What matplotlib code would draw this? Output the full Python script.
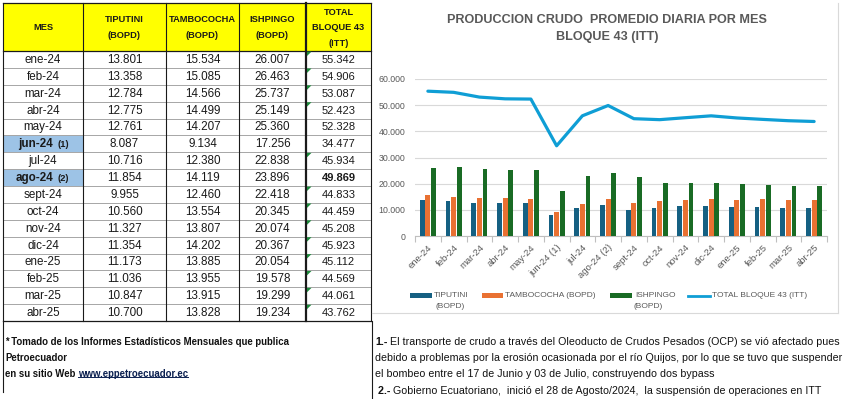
import matplotlib
matplotlib.use('Agg')
import matplotlib.pyplot as plt
from matplotlib import font_manager as fm
from matplotlib.patches import Rectangle, Polygon
from matplotlib.lines import Line2D
from matplotlib.ticker import FuncFormatter
import numpy as np

# ---------------- data ----------------
meses = ['ene-24', 'feb-24', 'mar-24', 'abr-24', 'may-24', 'jun-24', 'jul-24', 'ago-24',
         'sept-24', 'oct-24', 'nov-24', 'dic-24', 'ene-25', 'feb-25', 'mar-25', 'abr-25']
notas_mes = {5: '(1)', 7: '(2)'}
etiquetas = ['ene-24', 'feb-24', 'mar-24', 'abr-24', 'may-24', 'jun-24 (1)', 'jul-24', 'ago-24 (2)',
             'sept-24', 'oct-24', 'nov-24', 'dic-24', 'ene-25', 'feb-25', 'mar-25', 'abr-25']
tiputini = [13801, 13358, 12784, 12775, 12761, 8087, 10716, 11854, 9955, 10560, 11327, 11354,
            11173, 11036, 10847, 10700]
tambococha = [15534, 15085, 14566, 14499, 14207, 9134, 12380, 14119, 12460, 13554, 13807, 14202,
              13885, 13955, 13915, 13828]
ishpingo = [26007, 26463, 25737, 25149, 25360, 17256, 22838, 23896, 22418, 20345, 20074, 20367,
            20054, 19578, 19299, 19234]
total = [55342, 54906, 53087, 52423, 52328, 34477, 45934, 49869, 44833, 44459, 45208, 45923,
         45112, 44569, 44061, 43762]
encabezados = [['MES'], ['TIPUTINI', '(BOPD)'], ['TAMBOCOCHA', '(BOPD)'], ['ISHPINGO', '(BOPD)'],
               ['TOTAL', 'BLOQUE 43', '(ITT)']]
titulo = ['PRODUCCION CRUDO  PROMEDIO DIARIA POR MES', 'BLOQUE 43 (ITT)']
serie_nombres = ['TIPUTINI', 'TAMBOCOCHA (BOPD)', 'ISHPINGO', 'TOTAL BLOQUE 43 (ITT)']
nota_izq = ['* Tomado de los Informes Estadísticos Mensuales que publica', 'Petroecuador',
            'en su sitio Web ', 'www.eppetroecuador.ec']
nota_der = [('1.-', ' El transporte de crudo a través del Oleoducto de Crudos Pesados (OCP) se vió afectado pues'),
            ('', 'debido a problemas por la erosión ocasionada por el río Quijos, por lo que se tuvo que suspender'),
            ('', 'el bombeo entre el 17 de Junio y 03 de Julio, construyendo dos bypass'),
            (' 2.-', ' Gobierno Ecuatoriano,  inició el 28 de Agosto/2024,  la suspensión de operaciones en ITT')]

C_TIP, C_TAM, C_ISH, C_TOT = '#156082', '#E97132', '#196B24', '#0F9ED5'

# ---------------- fonts ----------------
names = {f.name for f in fm.fontManager.ttflist}
REG = 'Liberation Sans'
NF = 'Liberation Sans Narrow' if 'Liberation Sans Narrow' in names else REG

W, H = 843, 399
fig = plt.figure(figsize=(W / 100, H / 100), dpi=100)
fig.patch.set_facecolor('white')
bg = fig.add_axes([0, 0, 1, 1])
bg.set_xlim(0, W)
bg.set_ylim(H, 0)
bg.axis('off')
renderer = fig.canvas.get_renderer()


def fmt(v):
    return f"{v:,}".replace(',', '.')


def fit_size(s, target, **kw):
    probe = bg.text(0, 0, s, fontsize=10, **kw)
    w = probe.get_window_extent(renderer).width
    probe.remove()
    return 10 * target / w

# ---------------- table ----------------
cols = [3, 83, 166, 239, 306, 371]
centers = [(cols[i] + cols[i + 1]) / 2 for i in range(5)]
top, hdr_bot, bottom = 3, 51, 321
nrows = len(meses)
rh = (bottom - hdr_bot) / nrows

bg.add_patch(Rectangle((cols[0], top), cols[-1] - cols[0], hdr_bot - top, fc='#FFFF00', ec='none', zorder=0))
for i in notas_mes:
    bg.add_patch(Rectangle((cols[0], hdr_bot + i * rh), cols[1] - cols[0], rh, fc='#9DC3E6', ec='none', zorder=0))

for r in range(1, nrows):
    y = hdr_bot + r * rh
    bg.plot([cols[0], cols[-1]], [y, y], color='#A6A6A6', lw=0.7, zorder=1)
for y in (top, hdr_bot, bottom):
    bg.plot([cols[0], cols[-1]], [y, y], color='#1a1a1a', lw=0.9, zorder=2)
for i, xx in enumerate(cols):
    bg.plot([xx, xx], [top, bottom], color='#1a1a1a', lw=1.6 if i == 4 else 0.8, zorder=2)

HF = fit_size('TAMBOCOCHA', 67, family=NF, weight='bold')
hdr_ys = {1: [28], 2: [19.5, 35], 3: [12.5, 27.5, 43]}
for c, lines in enumerate(encabezados):
    for ln, yy in zip(lines, hdr_ys[len(lines)]):
        bg.text(centers[c], yy, ln, ha='center', va='center', family=NF, weight='bold',
                fontsize=HF, color='#1a1a1a')

BF = 8.4
for r in range(nrows):
    yc = hdr_bot + (r + 0.5) * rh + 0.5
    if r in notas_mes:
        bg.text(53, yc, meses[r], ha='right', va='center', family=REG, weight='bold', fontsize=BF,
                color='#1a1a1a')
        bg.text(57, yc + 0.5, notas_mes[r], ha='left', va='center', family=REG, weight='bold',
                fontsize=BF * 0.8, color='#1a1a1a')
    else:
        bg.text(centers[0], yc, meses[r], ha='center', va='center', family=REG, fontsize=BF,
                color='#1a1a1a')
    for c, serie in zip(range(1, 5), (tiputini, tambococha, ishpingo, total)):
        bg.text(centers[c], yc, fmt(serie[r]), ha='center', va='center', family=REG,
                fontsize=BF * (0.95 if c == 4 else 1.0), color='#1a1a1a',
                weight='bold' if (c == 4 and r == 7) else 'normal')
    if r not in (4, 5, 7):
        y0 = hdr_bot + r * rh
        bg.add_patch(Polygon([[cols[4] + 1, y0 + 0.6], [cols[4] + 5.5, y0 + 0.6], [cols[4] + 1, y0 + 5]],
                             closed=True, fc='#1E8A3C', ec='none', zorder=3))

# ---------------- chart ----------------
px0, px1, py0, py1 = 415, 827, 79, 236
ax = fig.add_axes([px0 / W, 1 - py1 / H, (px1 - px0) / W, (py1 - py0) / H])
ax.set_facecolor('none')
x = np.arange(len(meses))
bw = 0.19
ax.bar(x - 0.22, tiputini, bw, color=C_TIP, zorder=3)
ax.bar(x, tambococha, bw, color=C_TAM, zorder=3)
ax.bar(x + 0.22, ishpingo, bw, color=C_ISH, zorder=3)
ax.plot(x, total, color=C_TOT, lw=2.3, zorder=4, solid_joinstyle='round', solid_capstyle='round')
ax.set_xlim(-0.5, len(meses) - 0.5)
ax.set_ylim(0, 60000)
ax.set_yticks(np.arange(0, 60001, 10000))
ax.yaxis.set_major_formatter(FuncFormatter(lambda v, p: fmt(int(v))))
ax.grid(axis='y', color='#D9D9D9', lw=0.8, zorder=0)
for s in ('top', 'right', 'left'):
    ax.spines[s].set_visible(False)
ax.spines['bottom'].set_color('#BFBFBF')
ax.spines['bottom'].set_linewidth(0.8)
ax.tick_params(axis='y', length=0, pad=7, labelsize=6.3, labelcolor='#595959')
for lab in ax.get_yticklabels():
    lab.set_family(REG)
ax.set_xticks(x)
ax.set_xticklabels(etiquetas, rotation=45, ha='right', rotation_mode='anchor', family=REG,
                   fontsize=6.8, color='#595959')
ax.tick_params(axis='x', which='major', length=0, pad=5)
ax.set_xticks(np.arange(len(meses) + 1) - 0.5, minor=True)
ax.tick_params(axis='x', which='minor', length=4, color='#BFBFBF', width=0.8)

# title
TF = fit_size(titulo[0], 319, family=NF, weight='bold')
for ln, yy in zip(titulo, (20, 37)):
    bg.text(607, yy, ln, ha='center', va='center', family=NF, weight='bold', fontsize=TF,
            color='#595959')

# legend (manual)
LF = fit_size(serie_nombres[1], 90, family=NF)
ly = 295.5
bg.add_patch(Rectangle((410, ly - 2.5), 22, 5, fc=C_TIP, ec='none'))
bg.text(434, ly, serie_nombres[0], va='center', ha='left', family=NF, fontsize=LF, color='#595959')
bg.text(435, 306.5, '(BOPD)', va='center', ha='left', family=NF, fontsize=LF, color='#595959')
bg.add_patch(Rectangle((482, ly - 2.5), 21, 5, fc=C_TAM, ec='none'))
bg.text(505, ly, serie_nombres[1], va='center', ha='left', family=NF, fontsize=LF, color='#595959')
bg.add_patch(Rectangle((610, ly - 2.5), 22, 5, fc=C_ISH, ec='none'))
bg.text(635, ly, serie_nombres[2], va='center', ha='left', family=NF, fontsize=LF, color='#595959')
bg.text(633, 306.5, '(BOPD)', va='center', ha='left', family=NF, fontsize=LF, color='#595959')
bg.add_line(Line2D([688, 710], [ly, ly], color=C_TOT, lw=2))
bg.text(712, ly, serie_nombres[3], va='center', ha='left', family=NF, fontsize=LF, color='#595959')

# chart frame (right and bottom)
bg.plot([838, 838], [3, 313], color='#D9D9D9', lw=0.8)
bg.plot([372, 838], [313, 313], color='#D9D9D9', lw=0.8)

# ---------------- notes ----------------
bg.plot([372, 372], [bottom, H], color='#1a1a1a', lw=0.8)
bg.plot([3, 3], [bottom, 392], color='#1a1a1a', lw=0.8)

s_left = fit_size(nota_izq[0], 285, family=NF, weight='bold')
bg.text(5, 342, nota_izq[0], ha='left', va='center', family=NF, weight='bold', fontsize=s_left, color='#111111')
bg.text(5, 358, nota_izq[1], ha='left', va='center', family=NF, weight='bold', fontsize=s_left, color='#111111')
t3 = bg.text(5, 374, nota_izq[2], ha='left', va='center', family=NF, weight='bold', fontsize=s_left, color='#111111')
lk = bg.annotate(nota_izq[3], xy=(1, 0), xycoords=t3, ha='left', va='bottom', family=NF, weight='bold',
                 fontsize=s_left, color='#0B2050')
fig.canvas.draw()
bb = lk.get_window_extent(renderer)
uy = H - bb.y0 - 2.2
bg.plot([bb.x0, bb.x1], [uy, uy], color='#0B2050', lw=0.7)

s_right = fit_size(nota_der[0][0] + nota_der[0][1], 458, family=NF)
for (b, rest), yy in zip(nota_der, (342, 358, 374, 391)):
    if b:
        tb = bg.text(375, yy, b, ha='left', va='center', family=NF, weight='bold', fontsize=s_right,
                     color='#111111')
        bg.annotate(rest, xy=(1, 0), xycoords=tb, ha='left', va='bottom', family=NF, fontsize=s_right,
                    color='#111111')
    else:
        bg.text(375, yy, rest, ha='left', va='center', family=NF, fontsize=s_right, color='#111111')

fig.savefig('out.png', dpi=100, facecolor='white')
